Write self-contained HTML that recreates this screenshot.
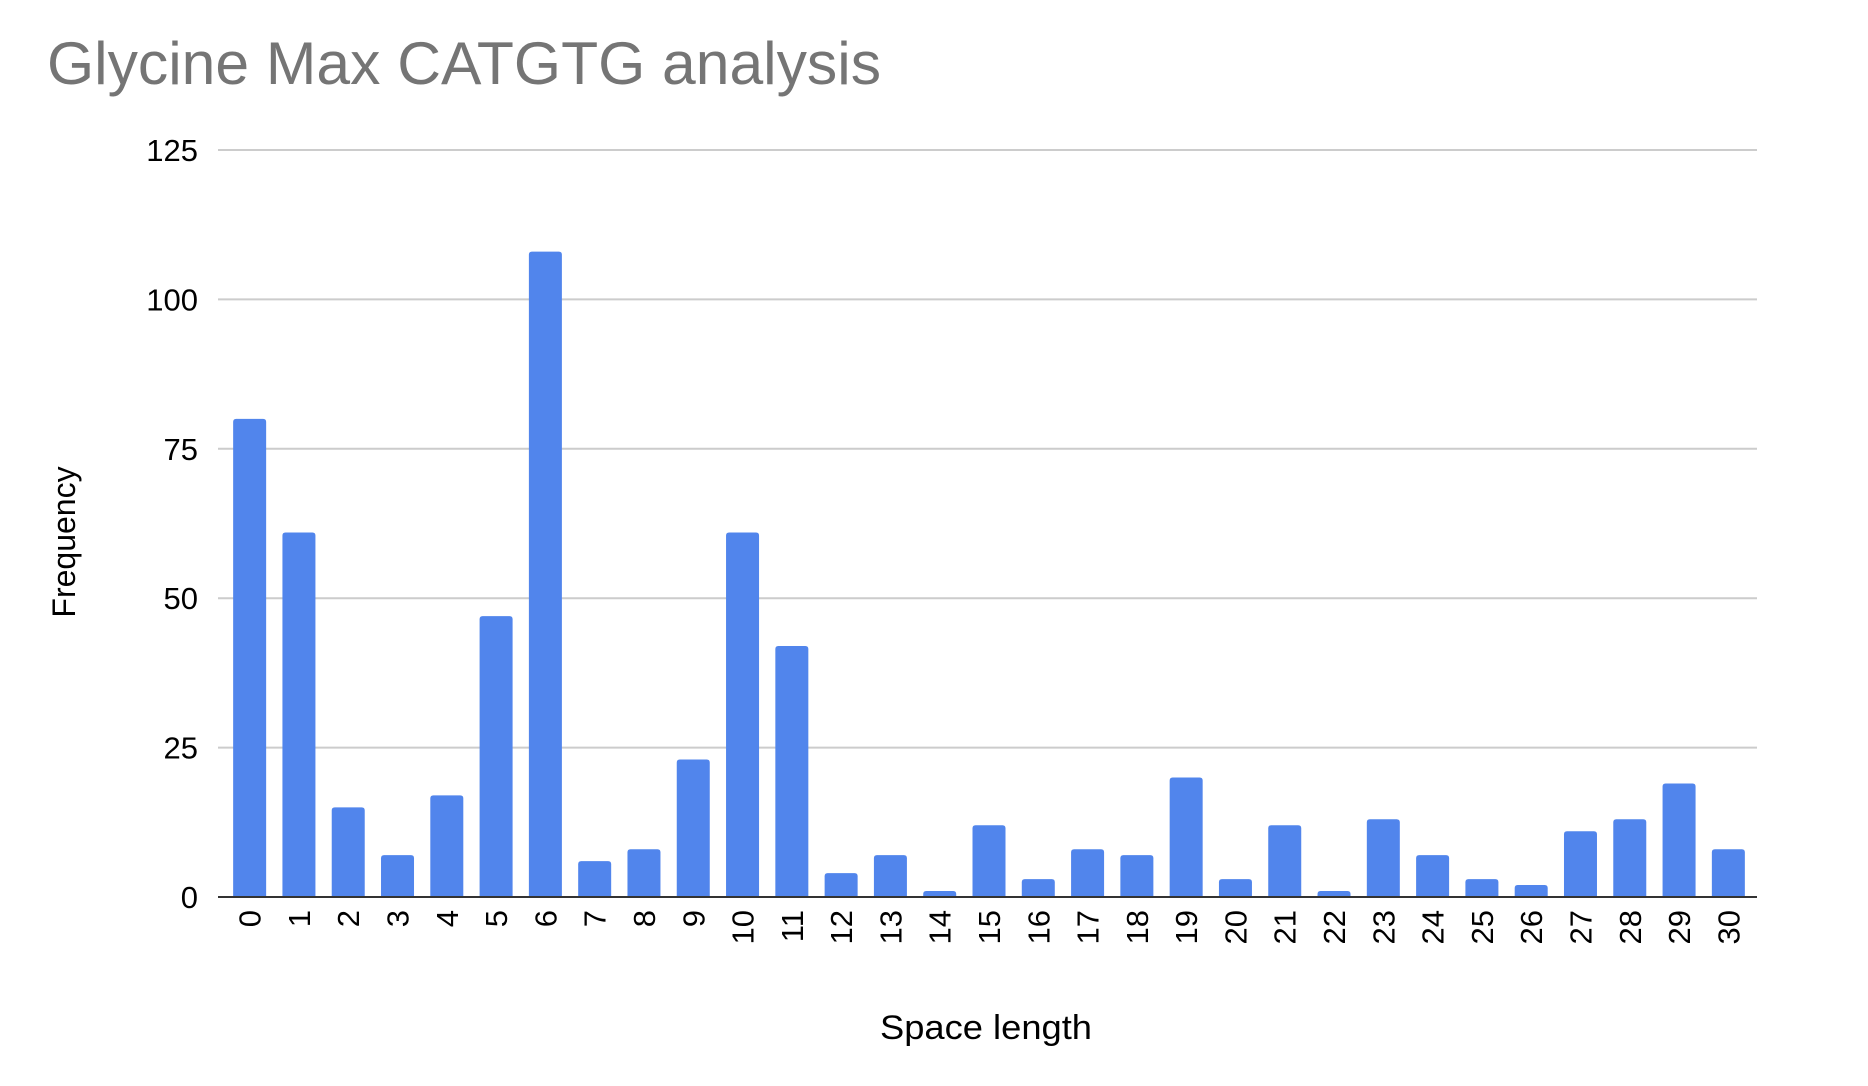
<!DOCTYPE html>
<html><head><meta charset="utf-8"><style>
html,body{margin:0;padding:0;background:#fff;}
svg{display:block;font-family:"Liberation Sans",Arial,sans-serif;}
</style></head><body>
<svg id="chart" width="1868" height="1086" viewBox="0 0 1868 1086" xmlns="http://www.w3.org/2000/svg">
<text x="47" y="84" font-size="60" fill="#757575" textLength="834" lengthAdjust="spacingAndGlyphs">Glycine Max CATGTG analysis</text>
<g id="grid"></g>
<g id="yticks"></g>
<g id="bars"></g>
<g id="xticks"></g>
<line id="xaxis" x1="218" x2="1757" y1="897" y2="897" stroke="#333" stroke-width="2"/>
<text x="0" y="0" font-size="32" fill="#000" text-anchor="middle" transform="translate(75,542) rotate(-90)">Frequency</text>
<text x="986" y="1039" font-size="34" fill="#000" text-anchor="middle" textLength="212" lengthAdjust="spacingAndGlyphs">Space length</text>
</svg>
<script>
const categories = ["0","1","2","3","4","5","6","7","8","9","10","11","12","13","14","15","16","17","18","19","20","21","22","23","24","25","26","27","28","29","30"];
const frequency = [80,61,15,7,17,47,108,6,8,23,61,42,4,7,1,12,3,8,7,20,3,12,1,13,7,3,2,11,13,19,8];
const yTicks = [0,25,50,75,100,125];

const NS = "http://www.w3.org/2000/svg";
const plotL = 218, plotR = 1757, y0 = 897, yTop = 150, yMax = 125;
const bandL = 225, bandR = 1753;
const band = (bandR - bandL) / categories.length;
const barW = 33;
function yScale(v){ return y0 - (v / yMax) * (y0 - yTop); }
function xCenter(i){ return bandL + band * (i + 0.5); }

const grid = document.getElementById('grid');
const yt = document.getElementById('yticks');
yTicks.forEach(t => {
  const y = yScale(t);
  if (t !== 0) {
    const l = document.createElementNS(NS, 'line');
    
    
    l.setAttribute('x1', plotL); l.setAttribute('x2', plotR);
    l.setAttribute('y1', y); l.setAttribute('y2', y);
    l.setAttribute('stroke', '#cccccc'); l.setAttribute('stroke-width', '2');
    grid.appendChild(l);
  }
  const tx = document.createElementNS(NS, 'text');
  
  
  tx.setAttribute('x', 198); tx.setAttribute('y', y + 11);
  tx.setAttribute('font-size', '31'); tx.setAttribute('text-anchor', 'end');
  tx.textContent = t;
  yt.appendChild(tx);
});

const bars = document.getElementById('bars');
const xt = document.getElementById('xticks');
frequency.forEach((v, i) => {
  const cx = xCenter(i);
  const top = yScale(v);
  const h = y0 - top;
  const p = document.createElementNS(NS, 'path');
  
  
  const x = cx - barW / 2, r = Math.min(3, h);
  p.setAttribute('d', `M${x},${y0} L${x},${top + r} Q${x},${top} ${x + r},${top} L${x + barW - r},${top} Q${x + barW},${top} ${x + barW},${top + r} L${x + barW},${y0} Z`);
  p.setAttribute('fill', '#5185ec');
  bars.appendChild(p);

  const tx = document.createElementNS(NS, 'text');
  
  
  tx.setAttribute('font-size', '31'); tx.setAttribute('text-anchor', 'end');
  tx.setAttribute('transform', `translate(${cx + 11},910) rotate(-90)`);
  tx.textContent = categories[i];
  xt.appendChild(tx);
});
</script>
</body></html>
